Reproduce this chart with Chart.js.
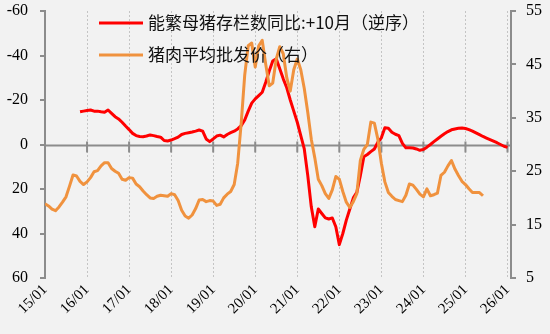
<!DOCTYPE html>
<html lang="zh-CN">
<head>
<meta charset="utf-8">
<title>能繁母猪存栏与猪肉批发价</title>
<script src="https://cdn.jsdelivr.net/npm/chart.js@4.4.1/dist/chart.umd.min.js"></script>
<style>
  html, body { margin: 0; padding: 0; background: #f2f2f2; }
  #wrap { width: 550px; height: 334px; }
</style>
</head>
<body>
<div id="wrap"><canvas id="pigChart" width="550" height="334"></canvas></div>
<script>
// x 轴用月份序号：0 = 2015年1月，每 12 个月一个刻度
const yearLabels = ['15/01', '16/01', '17/01', '18/01', '19/01', '20/01',
                    '21/01', '22/01', '23/01', '24/01', '25/01', '26/01'];

const seriesNames = ['能繁母猪存栏数同比:+10月（逆序）', '猪肉平均批发价（右）'];

// 能繁母猪存栏数同比（%），已前移10个月，从 2015-11 开始，左轴逆序
const sowStart = 10;
const sowYoY = [
  -14.7, -15, -15.3, -15.5, -15, -15, -14.7, -14.5, -15.5, -14,      // 2015-11 ..
  -12.5, -11.5, -10, -8.3, -6.7, -5, -4, -3.6, -3.5, -3.8,
  -4.3, -4, -3.6, -3.3, -1.8, -1.6, -2, -2.6, -3.3, -4.5,
  -5, -5.3, -5.6, -6, -6.5, -6, -2.5, -1.3, -2.5, -3.8,
  -4.2, -3.4, -4.5, -5.3, -6, -7, -8.5, -11, -15, -18.6,
  -20.5, -22, -23.5, -28, -33, -37.5, -38.5, -34, -29.5, -25.5,
  -20, -15, -10, -4, 2, 14, 28, 37, 29, 31,
  33, 33.5, 33, 37, 45, 40, 34, 29, 24, 21.5,
  14, 5.5, 4.5, 3.2, 2, -1, -3, -7.5, -7.3, -5.5,
  -4.6, -4, -0.5, 1.5, 1.5, 1.6, 2, 2.6, 2.2, 1.2,
  0, -1.3, -2.5, -3.7, -4.8, -5.8, -6.6, -7, -7.3, -7.4,
  -7.2, -6.7, -6, -5.2, -4.4, -3.6, -2.9, -2.2, -1.5, -0.8,
  0, 0.8, 1.3
];

// 猪肉平均批发价（元/公斤），从 2015-01 开始，右轴
const porkStart = 0;
const porkPrice = [
  18.9, 18.5, 17.9, 17.6, 18.3, 19.2, 20.2, 22.2, 24.3, 24.1,       // 2015-01 ..
  23.1, 22.5, 23, 23.8, 24.9, 25.1, 26, 26.6, 26.6, 25.5,
  25, 24.6, 23.5, 23.3, 23.8, 23.7, 22.6, 22.1, 21.3, 20.6,
  20, 19.9, 20.3, 20.5, 20.4, 20.3, 20.8, 20.6, 19.5, 17.7,
  16.6, 16.2, 16.8, 18, 19.6, 19.7, 19.3, 19.5, 19.4, 18.6,
  18.8, 20, 20.7, 21.2, 22.5, 26.5, 34, 43, 48.5, 49,
  44.5, 48.5, 49.5, 45, 41, 41.5, 46, 48.3, 47, 42.5,
  40, 44, 46, 44, 40.5, 36, 31, 27.5, 23.5, 22.3,
  20.8, 19.9, 21.5, 24, 23.5, 21.2, 19.2, 18.2, 19.3, 20.8,
  27, 29.1, 30, 34.2, 34, 31, 26.5, 23, 21, 20.3,
  19.7, 19.5, 19.3, 20.5, 22.6, 22.4, 21.6, 20.7, 20.2, 21.7,
  20.4, 20.6, 20.9, 24.2, 24.8, 26, 27, 25.4, 24.2, 23.1,
  22.5, 21.7, 21, 21, 21, 20.4
];

const axisGray = '#8c8c8c';
const serif = '"Liberation Serif", "Times New Roman", serif';

// y 轴固定宽度，并去掉标签半高带来的顶部留白
const fixWidth = w => s => {
  s.width = w;
  s.paddingTop = 0;
  s.paddingBottom = 0;
};

// 左轴 0 值处的横轴线及年份刻度
const zeroAxis = {
  id: 'zeroAxis',
  beforeDatasetsDraw(chart) {
    const { ctx, chartArea, scales: { x, y } } = chart;
    const y0 = Math.round(y.getPixelForValue(0)) + 0.5;
    ctx.save();
    ctx.strokeStyle = axisGray;
    ctx.lineWidth = 2;
    ctx.beginPath();
    ctx.moveTo(chartArea.left, y0);
    ctx.lineTo(chartArea.right, y0);
    x.ticks.forEach(t => {
      const px = x.getPixelForValue(t.value);
      ctx.moveTo(px, y0 - 4);
      ctx.lineTo(px, y0 + 7);
    });
    ctx.stroke();
    ctx.restore();
  }
};

// 图例压在绘图区左上角
const lineLegend = {
  id: 'lineLegend',
  afterDatasetsDraw(chart) {
    const ctx = chart.ctx;
    ctx.save();
    ctx.font = '17px "Noto Sans CJK SC", "Noto Sans", sans-serif';
    ctx.textBaseline = 'middle';
    chart.data.datasets.forEach((ds, i) => {
      const ly = 23 + i * 32;
      ctx.strokeStyle = ds.borderColor;
      ctx.lineWidth = 3;
      ctx.beginPath();
      ctx.moveTo(99, ly);
      ctx.lineTo(143, ly);
      ctx.stroke();
      ctx.fillStyle = '#111';
      ctx.fillText(ds.label, 148, ly);
    });
    ctx.restore();
  }
};

const ctx = document.getElementById('pigChart').getContext('2d');

new Chart(ctx, {
  type: 'line',
  data: {
    datasets: [
      {
        label: seriesNames[0],
        data: sowYoY.map((v, i) => ({ x: sowStart + i, y: v })),
        yAxisID: 'y',
        borderColor: '#ff0000',
        borderWidth: 3,
        borderJoinStyle: 'round',
        pointRadius: 0,
        tension: 0,
        order: 2
      },
      {
        label: seriesNames[1],
        data: porkPrice.map((v, i) => ({ x: porkStart + i, y: v })),
        yAxisID: 'y1',
        borderColor: '#f0923e',
        borderWidth: 3,
        borderJoinStyle: 'round',
        pointRadius: 0,
        tension: 0,
        order: 1
      }
    ]
  },
  options: {
    responsive: false,
    devicePixelRatio: 1,
    animation: false,
    layout: { padding: { top: 11, left: 0, right: 0, bottom: 0 } },
    plugins: {
      legend: { display: false },
      tooltip: { enabled: false }
    },
    scales: {
      x: {
        type: 'linear',
        min: 0,
        max: 133,
        grid: { color: '#c4c4c4', lineWidth: 1, drawTicks: false },
        border: { display: false, dash: [2, 2] },
        ticks: {
          stepSize: 12,
          includeBounds: false,
          maxTicksLimit: 20,
          autoSkip: false,
          minRotation: 45,
          maxRotation: 45,
          padding: 3,
          color: '#000',
          font: { family: serif, size: 15 },
          callback: v => yearLabels[v / 12]
        },
        afterFit: s => { s.height = 56; }
      },
      y: {
        position: 'left',
        reverse: true,
        min: -60,
        max: 60,
        grid: { drawOnChartArea: false, color: axisGray, lineWidth: 2, tickLength: 5 },
        border: { color: axisGray, width: 2 },
        ticks: { stepSize: 20, padding: 12, color: '#000', font: { family: serif, size: 16 } },
        afterFit: fixWidth(45)
      },
      y1: {
        position: 'right',
        min: 5,
        max: 55,
        grid: { drawOnChartArea: false, color: axisGray, lineWidth: 2, tickLength: 5 },
        border: { color: axisGray, width: 2 },
        ticks: { stepSize: 10, padding: 10, color: '#000', font: { family: serif, size: 16 } },
        afterFit: fixWidth(39)
      }
    }
  },
  plugins: [zeroAxis, lineLegend]
});
</script>
</body>
</html>
